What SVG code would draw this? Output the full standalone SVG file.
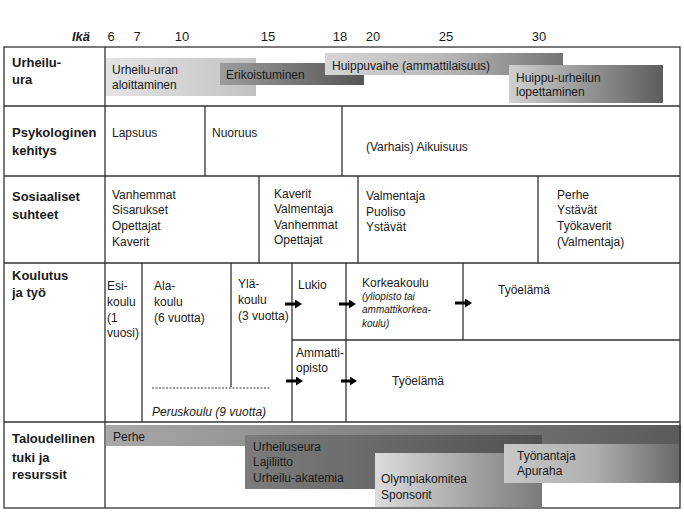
<svg xmlns="http://www.w3.org/2000/svg" width="684" height="513" viewBox="0 0 684 513">
<style>
text{font-family:"Liberation Sans",Arial,sans-serif;fill:#1a1a1a;font-size:12px}
.h{font-weight:bold;font-size:13px}
.num{font-size:13px}
.it{font-style:italic}
.sm{font-style:italic;font-size:10px}
.grid{stroke:#333;stroke-width:1.3;fill:none}
.arr{stroke:#000;stroke-width:3;fill:none}
</style>
<defs>
<linearGradient id="g1" x1="0" x2="1" y1="0" y2="0"><stop offset="0" stop-color="#e4e4e4"/><stop offset="1" stop-color="#c2c2c2"/></linearGradient>
<linearGradient id="g2" x1="0" x2="1" y1="0" y2="0"><stop offset="0" stop-color="#9c9c9c"/><stop offset="1" stop-color="#555"/></linearGradient>
<linearGradient id="g3" x1="0" x2="1" y1="0" y2="0"><stop offset="0" stop-color="#d6d6d6"/><stop offset="0.5" stop-color="#b8b8b8"/><stop offset="1" stop-color="#747474"/></linearGradient>
<linearGradient id="g4" x1="0" x2="1" y1="0" y2="0"><stop offset="0" stop-color="#d0d0d0"/><stop offset="1" stop-color="#5c5c5c"/></linearGradient>
<linearGradient id="g5" x1="0" x2="1" y1="0" y2="0"><stop offset="0" stop-color="#a8a8a8"/><stop offset="1" stop-color="#5a5a5a"/></linearGradient>
<linearGradient id="g6" x1="0" x2="1" y1="0" y2="0"><stop offset="0" stop-color="#7c7c7c"/><stop offset="1" stop-color="#515151"/></linearGradient>
<linearGradient id="g7" x1="0" x2="1" y1="0" y2="0"><stop offset="0" stop-color="#dcdcdc"/><stop offset="1" stop-color="#7a7a7a"/></linearGradient>
<linearGradient id="g8" x1="0" x2="1" y1="0" y2="0"><stop offset="0" stop-color="#c8c8c8"/><stop offset="0.5" stop-color="#b0b0b0"/><stop offset="1" stop-color="#686868"/></linearGradient>
<marker id="ah" markerUnits="userSpaceOnUse" markerWidth="7" markerHeight="9" refX="1" refY="4.5" orient="auto"><path d="M0,0 L7,4.5 L0,9 z" fill="#000"/></marker>
</defs>
<rect width="684" height="513" fill="#fff"/>

<g id="age-axis">
<text x="90" y="41" class="h it" text-anchor="end">Ikä</text>
<g class="num" text-anchor="middle">
<text x="111" y="41" class="num">6</text>
<text x="137" y="41" class="num">7</text>
<text x="182" y="41" class="num">10</text>
<text x="268" y="41" class="num">15</text>
<text x="340" y="41" class="num">18</text>
<text x="373" y="41" class="num">20</text>
<text x="446" y="41" class="num">25</text>
<text x="539" y="41" class="num">30</text>
</g>
</g>

<g id="career-bars">
<g id="bar-aloittaminen"><rect x="106" y="58" width="150" height="38" fill="url(#g1)"/><text x="112" y="74">Urheilu-uran</text><text x="112" y="89">aloittaminen</text></g>
<g id="bar-erikoistuminen"><rect x="220" y="63" width="144" height="22" fill="url(#g2)"/><text x="226" y="79">Erikoistuminen</text></g>
<g id="bar-huippuvaihe"><rect x="325" y="53" width="238" height="22" fill="url(#g3)"/><text x="332" y="70">Huippuvaihe (ammattilaisuus)</text></g>
<g id="bar-lopettaminen"><rect x="509" y="65" width="154" height="38" fill="url(#g4)"/><text x="516" y="82">Huippu-urheilun</text><text x="516" y="96">lopettaminen</text></g>
</g>

<g id="support-bars">
<g id="bar-perhe"><rect x="106" y="425" width="575" height="21" fill="url(#g5)"/><text x="113" y="441">Perhe</text></g>
<g id="bar-urheiluseura"><rect x="245" y="435" width="297" height="54" fill="url(#g6)"/><text x="253" y="451">Urheiluseura</text><text x="253" y="466">Lajiliitto</text><text x="253" y="482">Urheilu-akatemia</text></g>
<g id="bar-olympiakomitea"><rect x="375" y="453" width="167" height="54" fill="url(#g7)"/><text x="381" y="483">Olympiakomitea</text><text x="381" y="499">Sponsorit</text></g>
<g id="bar-tyonantaja"><rect x="504" y="444" width="177" height="39" fill="url(#g8)"/><text x="517" y="460">Työnantaja</text><text x="517" y="475">Apuraha</text></g>
</g>

<g id="grid" class="grid">
<rect x="4" y="47" width="676" height="461"/>
<path d="M105 47V508M4 106H680M4 176H680M4 263H680M4 422H680"/>
<path d="M205 106V176M342 106V176"/>
<path d="M259 176V263M358 176V263M538 176V263"/>
<path d="M142 263V422M231 263V387M292 263V422M346 263V422M463 263V340M292 340H680"/>
<path d="M152 388H271" stroke-dasharray="2,1.5" stroke-width="1"/>
</g>

<g id="row-labels">
<g id="label-urheiluura"><text x="12" y="67" class="h">Urheilu-</text><text x="12" y="84" class="h">ura</text></g>
<g id="label-psyk"><text x="12" y="137" class="h">Psykologinen</text><text x="12" y="155" class="h">kehitys</text></g>
<g id="label-sos"><text x="12" y="201" class="h">Sosiaaliset</text><text x="12" y="219" class="h">suhteet</text></g>
<g id="label-koulutus"><text x="12" y="280" class="h">Koulutus</text><text x="12" y="297" class="h">ja työ</text></g>
<g id="label-talous"><text x="12" y="443" class="h">Taloudellinen</text><text x="12" y="462" class="h">tuki ja</text><text x="12" y="479" class="h">resurssit</text></g>
</g>

<g id="psyk-cells">
<g id="cell-lapsuus"><text x="112" y="137">Lapsuus</text></g>
<g id="cell-nuoruus"><text x="212" y="137">Nuoruus</text></g>
<g id="cell-aikuisuus"><text x="366" y="151">(Varhais) Aikuisuus</text></g>
</g>

<g id="sos-cells">
<g id="cell-sos1"><text x="112" y="199">Vanhemmat</text><text x="112" y="214">Sisarukset</text><text x="112" y="230">Opettajat</text><text x="112" y="246">Kaverit</text></g>
<g id="cell-sos2"><text x="274" y="198">Kaverit</text><text x="274" y="213">Valmentaja</text><text x="274" y="229">Vanhemmat</text><text x="274" y="244">Opettajat</text></g>
<g id="cell-sos3"><text x="366" y="200">Valmentaja</text><text x="366" y="216">Puoliso</text><text x="366" y="231">Ystävät</text></g>
<g id="cell-sos4"><text x="557" y="199">Perhe</text><text x="557" y="214">Ystävät</text><text x="557" y="230">Työkaverit</text><text x="557" y="246">(Valmentaja)</text></g>
</g>

<g id="edu-cells">
<g id="cell-esikoulu"><text x="107" y="290">Esi-</text><text x="107" y="306">koulu</text><text x="107" y="322">(1</text><text x="107" y="337">vuosi)</text></g>
<g id="cell-alakoulu"><text x="154" y="290">Ala-</text><text x="154" y="306">koulu</text><text x="154" y="322">(6 vuotta)</text></g>
<g id="cell-ylakoulu"><text x="238" y="288">Ylä-</text><text x="238" y="304">koulu</text><text x="238" y="320">(3 vuotta)</text></g>
<g id="cell-peruskoulu"><text x="152" y="416" class="it">Peruskoulu (9 vuotta)</text></g>
<g id="cell-lukio"><text x="298" y="289">Lukio</text></g>
<g id="cell-ammattiopisto"><text x="296" y="357">Ammatti-</text><text x="296" y="372">opisto</text></g>
<g id="cell-korkeakoulu"><text x="362" y="287">Korkeakoulu</text><text x="362" y="300" class="sm">(yliopisto tai</text><text x="362" y="313" class="sm">ammattikorkea-</text><text x="362" y="327" class="sm">koulu)</text></g>
<g id="cell-tyoelama1"><text x="498" y="294">Työelämä</text></g>
<g id="cell-tyoelama2"><text x="392" y="385">Työelämä</text></g>
</g>

<g id="connectors" class="arr">
<path d="M285 304H296" marker-end="url(#ah)"/>
<path d="M339 304H350" marker-end="url(#ah)"/>
<path d="M455 303H466" marker-end="url(#ah)"/>
<path d="M286 381H297" marker-end="url(#ah)"/>
<path d="M341 381H351" marker-end="url(#ah)"/>
</g>
</svg>
